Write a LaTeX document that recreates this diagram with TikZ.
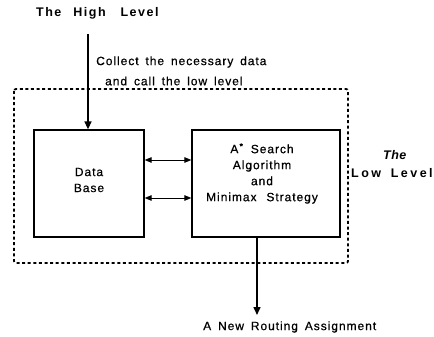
\documentclass[tikz,border=0pt]{standalone}
\usepackage{fontspec}
\setmainfont{Liberation Sans}[LetterSpace=8,WordSpace=1.6,FakeBold=0.6]
\newfontfamily\headfont{Liberation Sans Bold}[LetterSpace=12,WordSpace=1.6]
\newfontfamily\headitfont{Liberation Sans Bold Italic}[LetterSpace=4]
\usetikzlibrary{arrows.meta}
\begin{document}
\begin{tikzpicture}[x=1pt,y=-1pt,
  lbl/.style={font=\fontsize{12}{16}\selectfont, inner sep=0pt, align=center},
  blbl/.style={font=\fontsize{12.5}{16}\headfont, inner sep=0pt, align=center},
  block/.style={draw, line width=1.3pt, minimum width=110pt, minimum height=107pt, inner sep=0pt},
  flow/.style={line width=1.5pt, -{Triangle[length=8pt,width=7pt]}},
  link/.style={line width=0.9pt, {Triangle[length=7pt,width=5.5pt]}-{Triangle[length=7pt,width=5.5pt]}},
  boundary/.style={line width=1.8pt, dash pattern=on 3pt off 2.6pt, rounded corners=2pt}]
\useasboundingbox (0,0) rectangle (434,337);

% boundary of the low level
\draw[boundary] (14,89) rectangle (348,263);

% the two blocks
\node[block] (db) at (89,183.5) {};
\node[block, minimum width=148pt] (search) at (266,183.5) {};
\node[lbl] (dbtext) at (89,180) {Data\\Base};
\node[lbl] (stext) at (262,173.5) {A\textsuperscript{\,\textbf{*}} Search\\Algorithm\\and\\Minimax\hspace{3pt} Strategy};

% top level and the call into the data base
\node[blbl, anchor=west] (high) at (36,13) {The\hspace{4pt} High\hspace{7pt} Level};
\coordinate (callstart) at (88,34);
\draw[flow] (callstart) -- (callstart |- db.north);
\node[lbl, anchor=west] (collect) at (96,62) {Collect the necessary data};
\node[lbl, anchor=west] (call) at (105,81) {and call the low level};

% exchanges between the blocks
\coordinate (upper) at (0,160);
\coordinate (lower) at (0,198);
\draw[link] (db.east |- upper) -- (search.west |- upper);
\draw[link] (db.east |- lower) -- (search.west |- lower);

% low level label
\node[blbl, font=\fontsize{12.5}{16}\headitfont, anchor=west] (the) at (383,155) {The};
\node[blbl, anchor=west, font=\fontsize{12.5}{16}\headfont\addfontfeatures{LetterSpace=20}] (low) at (351,173) {Low Level};

% result
\coordinate (resultend) at (257,315);
\node[lbl, anchor=west] (result) at (203,327) {A New Routing Assignment};
\draw[flow] (resultend |- search.south) -- (resultend);
\end{tikzpicture}
\end{document}
